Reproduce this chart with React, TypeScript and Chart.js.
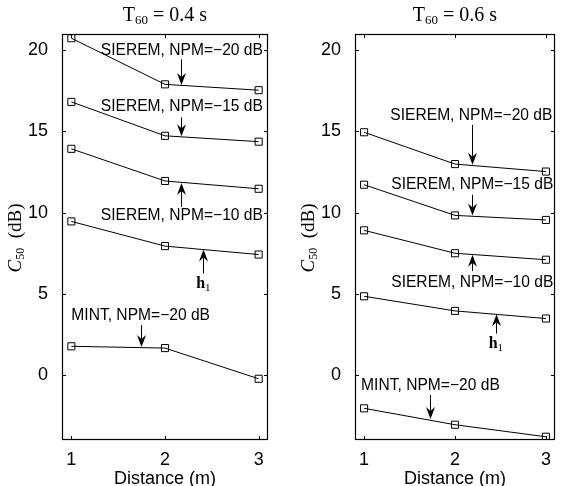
import React, { useEffect, useRef } from 'react';
import { Chart, registerables } from 'chart.js';
Chart.register(...registerables);

// ---------- data ----------
const distances = [1, 2, 3];
const xTickValues = [1, 2, 3];
const yTickValues = [0, 5, 10, 15, 20];

// T60 = 0.4 s
const left_sieremNpm20 = [20.74, 17.9, 17.54];
const left_sieremNpm15 = [16.82, 14.73, 14.37];
const left_sieremNpm10 = [13.93, 11.95, 11.47];
const left_h1 = [9.46, 7.94, 7.42];
const left_mintNpm20 = [1.77, 1.66, -0.23];

// T60 = 0.6 s
const right_sieremNpm20 = [14.95, 12.99, 12.53];
const right_sieremNpm15 = [11.72, 9.83, 9.55];
const right_sieremNpm10 = [8.91, 7.5, 7.1];
const right_h1 = [4.85, 3.95, 3.48];
const right_mintNpm20 = [-2.05, -3.06, -3.8];

const leftTitleValue = '0.4';
const rightTitleValue = '0.6';

// annotation texts (data coords of text centre)
const leftNotes = [
  { text: 'SIEREM, NPM=\u221220 dB', x: 2.18, y: 20.0 },
  { text: 'SIEREM, NPM=\u221215 dB', x: 2.18, y: 16.5 },
  { text: 'SIEREM, NPM=\u221210 dB', x: 2.18, y: 9.8 },
  { text: 'MINT, NPM=\u221220 dB', x: 1.74, y: 3.63 },
];
const rightNotes = [
  { text: 'SIEREM, NPM=\u221220 dB', x: 2.18, y: 16.0 },
  { text: 'SIEREM, NPM=\u221215 dB', x: 2.19, y: 11.7 },
  { text: 'SIEREM, NPM=\u221210 dB', x: 2.19, y: 5.67 },
  { text: 'MINT, NPM=\u221220 dB', x: 1.73, y: -0.67 },
];
// arrows: x, tail y, tip y (data coords)
const leftArrows = [
  { x: 2.17, from: 19.45, to: 17.86 },
  { x: 2.17, from: 15.87, to: 14.7 },
  { x: 2.17, from: 10.35, to: 11.83 },
  { x: 2.41, from: 6.25, to: 7.73 },
  { x: 1.745, from: 3.08, to: 1.72 },
];
const rightArrows = [
  { x: 2.19, from: 15.4, to: 12.95 },
  { x: 2.19, from: 11.1, to: 9.83 },
  { x: 2.19, from: 6.4, to: 7.4 },
  { x: 2.45, from: 2.55, to: 3.74 },
  { x: 1.73, from: -1.23, to: -2.7 },
];
const leftH1 = { x: 2.41, y: 5.65 };
const rightH1 = { x: 2.45, y: 1.98 };

// ---------- drawing helpers ----------
const SANS = '"Liberation Sans", Arial, Helvetica, sans-serif';
const SERIF = '"Liberation Serif", "Times New Roman", serif';

type Seg = { t: string; font: string; dy?: number };
function drawSegs(ctx: CanvasRenderingContext2D, segs: Seg[], cx: number, baseline: number) {
  const widths = segs.map((s) => {
    ctx.font = s.font;
    return ctx.measureText(s.t).width;
  });
  const total = widths.reduce((a, b) => a + b, 0);
  let xx = cx - total / 2;
  ctx.textAlign = 'left';
  ctx.textBaseline = 'alphabetic';
  segs.forEach((s, i) => {
    ctx.font = s.font;
    ctx.fillText(s.t, xx, baseline + (s.dy || 0));
    xx += widths[i];
  });
}

function drawArrow(ctx: CanvasRenderingContext2D, px: number, y0: number, y1: number) {
  const dir = Math.sign(y1 - y0);
  const L = 12, W = 4.5, notch = 4;
  ctx.beginPath();
  ctx.moveTo(px, y0);
  ctx.lineTo(px, y1 - dir * (L - notch));
  ctx.stroke();
  ctx.beginPath();
  ctx.moveTo(px, y1);
  ctx.lineTo(px - W, y1 - dir * L);
  ctx.lineTo(px, y1 - dir * (L - notch));
  ctx.lineTo(px + W, y1 - dir * L);
  ctx.closePath();
  ctx.fill();
}

function makeDecor(titleValue: string, notes: any[], arrows: any[], h1: any) {
  return {
    id: 'decor',
    afterDraw(chart: any) {
      const { ctx, chartArea: a, scales } = chart;
      const xs = scales.x, ys = scales.y;
      ctx.save();
      ctx.strokeStyle = '#000';
      ctx.fillStyle = '#000';
      ctx.lineWidth = 1.2;
      // box
      ctx.strokeRect(Math.round(a.left) + 0.5, Math.round(a.top) + 0.5,
        Math.round(a.right - a.left) - 1, Math.round(a.bottom - a.top) - 1);
      ctx.lineWidth = 1;
      // inward ticks
      const tl = 4;
      ctx.beginPath();
      xTickValues.forEach((v) => {
        const px = Math.round(xs.getPixelForValue(v)) + 0.5;
        ctx.moveTo(px, a.bottom); ctx.lineTo(px, a.bottom - tl);
        ctx.moveTo(px, a.top); ctx.lineTo(px, a.top + tl);
      });
      yTickValues.forEach((v) => {
        const py = Math.round(ys.getPixelForValue(v)) + 0.5;
        ctx.moveTo(a.left, py); ctx.lineTo(a.left + tl, py);
        ctx.moveTo(a.right, py); ctx.lineTo(a.right - tl, py);
      });
      ctx.stroke();
      // notes
      ctx.font = '15.6px ' + SANS;
      ctx.textAlign = 'center';
      ctx.textBaseline = 'middle';
      notes.forEach((n) => {
        ctx.fillText(n.text, xs.getPixelForValue(n.x), ys.getPixelForValue(n.y));
      });
      arrows.forEach((ar) => {
        drawArrow(ctx, Math.round(xs.getPixelForValue(ar.x)) + 0.5,
          ys.getPixelForValue(ar.from), ys.getPixelForValue(ar.to));
      });
      // h1 label
      drawSegs(ctx, [
        { t: 'h', font: 'bold 16px ' + SERIF },
        { t: '1', font: '11px ' + SERIF, dy: 3 },
      ], xs.getPixelForValue(h1.x), ys.getPixelForValue(h1.y) + 5);
      // title
      const cx = (a.left + a.right) / 2;
      drawSegs(ctx, [
        { t: 'T', font: '20px ' + SERIF },
        { t: '60', font: '13px ' + SERIF, dy: 3 },
        { t: ' = ' + titleValue + ' s', font: '20px ' + SERIF },
      ], cx, 21);
      // x label
      ctx.font = '18px ' + SANS;
      ctx.textAlign = 'center';
      ctx.textBaseline = 'alphabetic';
      ctx.fillText('Distance (m)', cx, 484);
      // y label
      ctx.translate(a.left - 42, 238);
      ctx.rotate(-Math.PI / 2);
      drawSegs(ctx, [
        { t: 'C', font: 'italic 19px ' + SERIF },
        { t: '50', font: '12px ' + SERIF, dy: 3 },
        { t: '  (dB)', font: '19px ' + SERIF },
      ], 0, 1);
      ctx.restore();
    },
  };
}

function series(vals: number[]) {
  return {
    data: distances.map((d, i) => ({ x: d, y: vals[i] })),
    borderColor: '#000',
    borderWidth: 1,
    pointStyle: 'rect',
    pointRadius: 5,
    pointBorderColor: '#000',
    pointBackgroundColor: 'rgba(0,0,0,0)',
    pointBorderWidth: 1,
    tension: 0,
    fill: false,
  };
}

type PanelProps = {
  left: number; width: number; yAxisWidth: number; padRight: number;
  data: number[][]; titleValue: string; notes: any[]; arrows: any[]; h1: any;
};

function Panel(p: PanelProps) {
  const ref = useRef<HTMLCanvasElement>(null);
  useEffect(() => {
    const tickFont = { family: SANS, size: 18 };
    const chart = new Chart(ref.current as HTMLCanvasElement, {
      type: 'line',
      data: { datasets: p.data.map(series) as any },
      options: {
        animation: false,
        responsive: false,
        layout: { padding: { top: 34, right: p.padRight, left: 0, bottom: 0 } },
        plugins: { legend: { display: false }, tooltip: { enabled: false } },
        scales: {
          x: {
            type: 'linear', min: 0.9, max: 3.1,
            grid: { display: false }, border: { display: false },
            ticks: { font: tickFont, color: '#000', padding: 1 },
            afterBuildTicks: (s: any) => { s.ticks = xTickValues.map((v) => ({ value: v })); },
            afterFit: (s: any) => { s.height = 46; },
          },
          y: {
            type: 'linear', min: -4, max: 21,
            grid: { display: false }, border: { display: false },
            ticks: { font: tickFont, color: '#000', padding: 6 },
            afterBuildTicks: (s: any) => { s.ticks = yTickValues.map((v) => ({ value: v })); },
            afterFit: (s: any) => { s.width = p.yAxisWidth; },
          },
        },
      } as any,
      plugins: [makeDecor(p.titleValue, p.notes, p.arrows, p.h1)],
    });
    return () => chart.destroy();
  }, []);
  return (
    <canvas ref={ref} width={p.width} height={486}
      style={{ position: 'absolute', left: p.left, top: 0, width: p.width, height: 486 }} />
  );
}

export default function App() {
  return (
    <div style={{ position: 'fixed', left: 0, top: 0, width: 561, height: 486, background: '#fff' }}>
      <Panel left={0} width={280} yAxisWidth={62} padRight={12}
        data={[left_sieremNpm20, left_sieremNpm15, left_sieremNpm10, left_h1, left_mintNpm20]}
        titleValue={leftTitleValue} notes={leftNotes} arrows={leftArrows} h1={leftH1} />
      <Panel left={280} width={281} yAxisWidth={75} padRight={1}
        data={[right_sieremNpm20, right_sieremNpm15, right_sieremNpm10, right_h1, right_mintNpm20]}
        titleValue={rightTitleValue} notes={rightNotes} arrows={rightArrows} h1={rightH1} />
    </div>
  );
}
